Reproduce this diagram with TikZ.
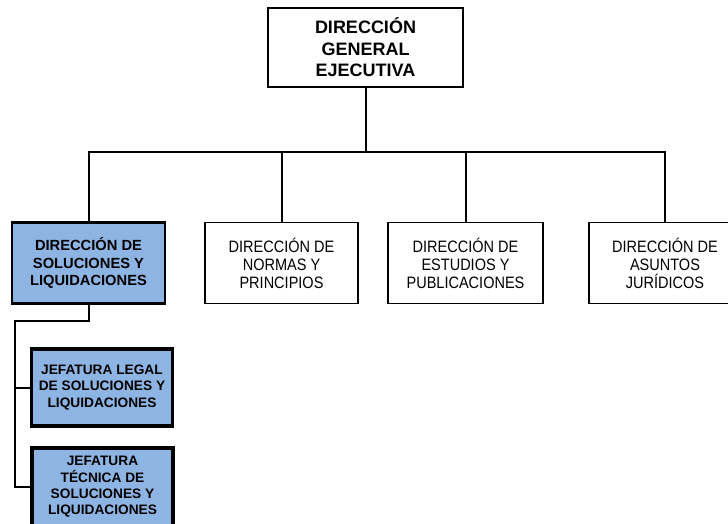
\documentclass[tikz,border=0pt]{standalone}
\usepackage{fontspec}
\setmainfont{Liberation Sans}
\newfontfamily\narrowfont[FakeStretch=0.88]{Liberation Sans}
\usetikzlibrary{positioning}
\definecolor{unitblue}{HTML}{8DB4E2}

\tikzset{
  topbox/.style={draw, line width=2pt, fill=white, align=center, inner sep=0pt,
    minimum width=195pt, minimum height=79pt,
    font=\fontsize{18}{21.5}\selectfont\bfseries},
  unitbox/.style={draw, line width=1.8pt, fill=white, align=center, inner sep=0pt,
    minimum width=153pt, minimum height=81pt,
    font=\narrowfont\fontsize{16.5}{18}\selectfont},
  mainunit/.style={unitbox, fill=unitblue, line width=2.2pt,
    font=\fontsize{14.7}{17.5}\selectfont\bfseries},
  jefbox/.style={draw, line width=3.2pt, fill=unitblue, align=center, inner sep=0pt,
    minimum width=141pt, minimum height=77pt,
    font=\fontsize{13.7}{16.3}\selectfont\bfseries},
  link/.style={line width=2pt}
}

\begin{document}
\begin{tikzpicture}[x=1pt, y=-1pt]
  \useasboundingbox (0,0) rectangle (728,523);
  \clip (0,0) rectangle (728,523);

  % Dirección general
  \node[topbox] (dge) at (365.5,47.5) {DIRECCIÓN\\GENERAL\\EJECUTIVA};

  % Direcciones
  \node[mainunit] (dsl) at (88.5,263) {DIRECCIÓN DE\\SOLUCIONES Y\\LIQUIDACIONES};
  \node[unitbox] (dnp) at (281.5,263) {DIRECCIÓN DE\\NORMAS Y\\PRINCIPIOS};
  \node[unitbox, minimum width=155pt] (dep) at (465.5,263) {DIRECCIÓN DE\\ESTUDIOS Y\\PUBLICACIONES};
  \node[unitbox, minimum width=152pt] (daj) at (665,263) {DIRECCIÓN DE\\ASUNTOS\\JURÍDICOS};

  % Jefaturas
  \node[jefbox] (jlegal) at (102,387.5) {JEFATURA LEGAL\\DE SOLUCIONES Y\\LIQUIDACIONES};
  \node[jefbox, minimum height=78pt] (jtecnica) at (102.5,487) {JEFATURA\\TÉCNICA DE\\SOLUCIONES Y\\LIQUIDACIONES};

  % Conectores
  \coordinate (bus) at (0,152);
  \foreach \u in {dsl, dnp, dep, daj}
    \draw[link] (dge.south) -- (dge.south |- bus) -| (\u.north);

  \coordinate (spine) at (15,321);
  \draw[link] (dsl.south) |- (spine) |- (jtecnica.west);
  \draw[link] (spine |- jlegal.west) -- (jlegal.west);
\end{tikzpicture}
\end{document}
